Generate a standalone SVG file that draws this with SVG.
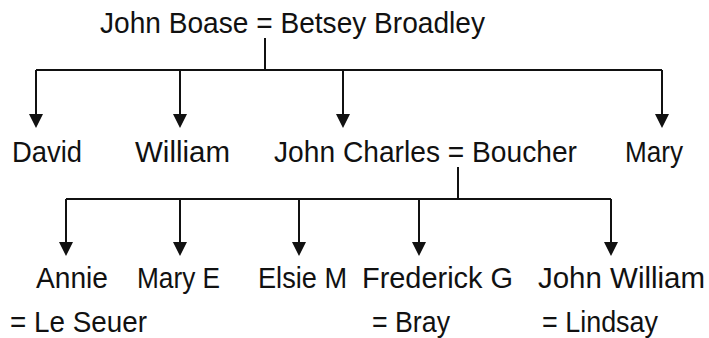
<svg xmlns="http://www.w3.org/2000/svg" width="709" height="338" viewBox="0 0 709 338">
<style>
text{font-family:"Liberation Sans",Arial,sans-serif;font-size:30px;fill:#111}
.c{fill:none;stroke:#111;stroke-width:2}
.h{fill:#111}
</style>
<rect width="709" height="338" fill="#fff"/>
<g id="connectors">
<path class="c" d="M265,38 V70 M36,70 H662"/>
<line class="c" x1="36" y1="70" x2="36" y2="114"/>
<line class="c" x1="180" y1="70" x2="180" y2="114"/>
<line class="c" x1="343" y1="70" x2="343" y2="114"/>
<line class="c" x1="662" y1="70" x2="662" y2="114"/>
<path class="h" d="M29,114 H43 L36,128 Z M173,114 H187 L180,128 Z M336,114 H350 L343,128 Z M655,114 H669 L662,128 Z"/>
<path class="c" d="M458,167 V199 M66,199 H611"/>
<line class="c" x1="66" y1="199" x2="66" y2="242"/>
<line class="c" x1="180" y1="199" x2="180" y2="242"/>
<line class="c" x1="299" y1="199" x2="299" y2="242"/>
<line class="c" x1="419" y1="199" x2="419" y2="242"/>
<line class="c" x1="611" y1="199" x2="611" y2="242"/>
<path class="h" d="M59,242 H73 L66,256 Z M173,242 H187 L180,256 Z M292,242 H306 L299,256 Z M412,242 H426 L419,256 Z M604,242 H618 L611,256 Z"/>
</g>
<g id="parents"><text x="100" y="33" textLength="385" lengthAdjust="spacingAndGlyphs">John Boase = Betsey Broadley</text></g>
<g id="david"><text x="12" y="162" textLength="70" lengthAdjust="spacingAndGlyphs">David</text></g>
<g id="william"><text x="135" y="162" textLength="95" lengthAdjust="spacingAndGlyphs">William</text></g>
<g id="john-charles"><text x="274" y="162" textLength="303" lengthAdjust="spacingAndGlyphs">John Charles = Boucher</text></g>
<g id="mary"><text x="625" y="162" textLength="58" lengthAdjust="spacingAndGlyphs">Mary</text></g>
<g id="annie"><text x="36" y="288" textLength="72" lengthAdjust="spacingAndGlyphs">Annie</text><text x="10" y="332" textLength="137" lengthAdjust="spacingAndGlyphs">= Le Seuer</text></g>
<g id="mary-e"><text x="137" y="288" textLength="83" lengthAdjust="spacingAndGlyphs">Mary E</text></g>
<g id="elsie-m"><text x="258" y="288" textLength="89" lengthAdjust="spacingAndGlyphs">Elsie M</text></g>
<g id="frederick-g"><text x="362" y="288" textLength="151" lengthAdjust="spacingAndGlyphs">Frederick G</text><text x="372" y="332" textLength="78" lengthAdjust="spacingAndGlyphs">= Bray</text></g>
<g id="john-william"><text x="538" y="288" textLength="167" lengthAdjust="spacingAndGlyphs">John William</text><text x="542" y="332" textLength="116" lengthAdjust="spacingAndGlyphs">= Lindsay</text></g>
</svg>
